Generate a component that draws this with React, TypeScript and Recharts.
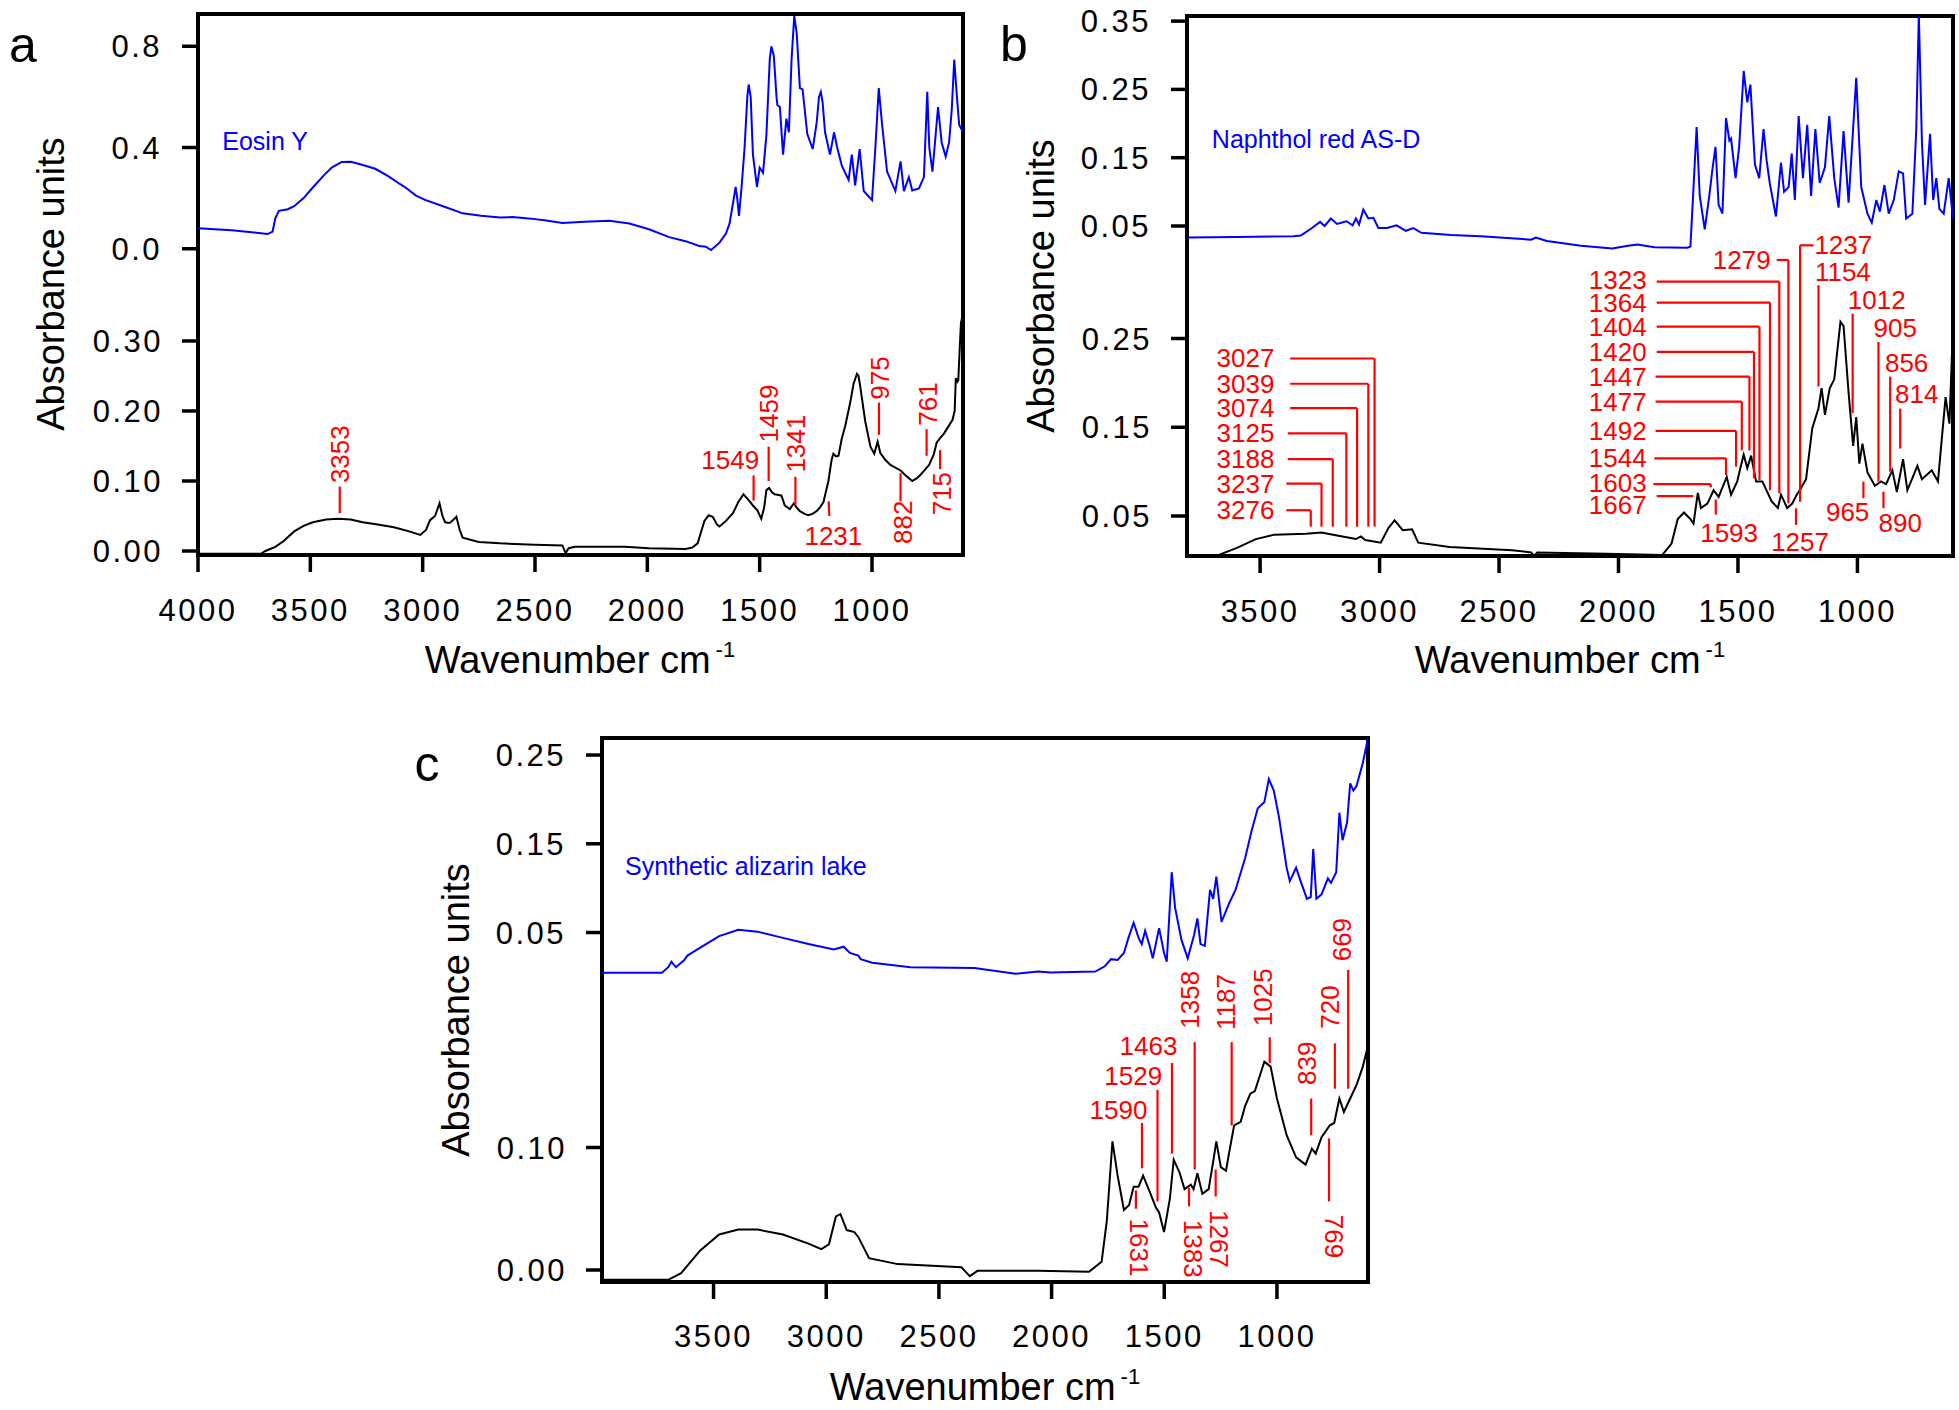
import React from 'react';
import {
  ComposedChart, Line, XAxis, YAxis, ReferenceLine, ReferenceDot, ReferenceArea,
} from 'recharts';

const FONT = '"Liberation Sans", Arial, Helvetica, sans-serif';
const BLUE = '#0000ff';
const BLACK = '#000000';
const RED = '#ff0000';

type Pair = [number, number];
type Peak = { t: string; x: number; y: number; r: number; a: 'start' | 'middle' | 'end'; path: Pair[] };

/* ── spectra: [wavenumber, absorbance] ── */
const eosinBlue: Pair[] = [
  [4000, 0.081], [3850, 0.073], [3750, 0.064], [3690, 0.058], [3668, 0.068], [3656, 0.12], [3640, 0.15],
  [3600, 0.156], [3572, 0.168], [3530, 0.2], [3489, 0.242], [3440, 0.29], [3405, 0.321], [3360, 0.343],
  [3320, 0.344], [3270, 0.332], [3211, 0.316], [3150, 0.285], [3100, 0.255], [3072, 0.239], [3030, 0.21],
  [2989, 0.193], [2900, 0.165], [2822, 0.14], [2740, 0.13], [2656, 0.123], [2600, 0.125], [2517, 0.119],
  [2450, 0.112], [2378, 0.102], [2280, 0.107], [2169, 0.111], [2080, 0.1], [1993, 0.077], [1903, 0.046],
  [1830, 0.03], [1769, 0.011], [1740, 0.008], [1716, -0.005], [1679, 0.024], [1650, 0.06], [1634, 0.1],
  [1615, 0.2], [1607, 0.244], [1600, 0.2], [1592, 0.13], [1580, 0.25], [1567, 0.402], [1555, 0.6],
  [1549, 0.649], [1540, 0.6], [1530, 0.372], [1512, 0.244], [1500, 0.32], [1485, 0.3], [1470, 0.45],
  [1455, 0.75], [1448, 0.8], [1437, 0.762], [1425, 0.6], [1421, 0.567], [1410, 0.56], [1396, 0.372],
  [1381, 0.514], [1370, 0.46], [1358, 0.75], [1346, 0.92], [1335, 0.85], [1321, 0.635], [1309, 0.63],
  [1288, 0.453], [1264, 0.394], [1246, 0.5], [1236, 0.6], [1228, 0.62], [1220, 0.58], [1209, 0.46],
  [1187, 0.372], [1169, 0.46], [1155, 0.4], [1134, 0.327], [1104, 0.272], [1090, 0.372], [1075, 0.25],
  [1055, 0.394], [1037, 0.228], [1000, 0.192], [985, 0.4], [970, 0.635], [955, 0.49], [933, 0.305],
  [896, 0.228], [873, 0.345], [858, 0.228], [836, 0.283], [821, 0.23], [791, 0.238], [769, 0.283],
  [754, 0.62], [745, 0.4], [731, 0.305], [706, 0.56], [690, 0.42], [672, 0.364], [657, 0.42], [645, 0.55],
  [634, 0.747], [622, 0.6], [612, 0.49], [595, 0.46],
];

const eosinBlack: Pair[] = [
  [4000, -0.004], [3720, -0.004], [3700, 0.0], [3656, 0.006], [3620, 0.014], [3572, 0.028], [3530, 0.036],
  [3489, 0.041], [3430, 0.045], [3378, 0.046], [3320, 0.045], [3267, 0.041], [3200, 0.038], [3128, 0.034],
  [3060, 0.028], [3011, 0.023], [2985, 0.03], [2967, 0.044], [2945, 0.05], [2925, 0.068], [2912, 0.05],
  [2900, 0.041], [2880, 0.04], [2862, 0.045], [2850, 0.049], [2835, 0.03], [2822, 0.019], [2750, 0.013],
  [2656, 0.011], [2500, 0.009], [2378, 0.008], [2364, -0.003], [2350, 0.004], [2322, 0.006], [2100, 0.006],
  [1993, 0.004], [1830, 0.003], [1800, 0.005], [1776, 0.011], [1746, 0.043], [1727, 0.051], [1709, 0.049],
  [1690, 0.038], [1679, 0.035], [1650, 0.043], [1619, 0.054], [1595, 0.07], [1572, 0.081], [1550, 0.073],
  [1530, 0.065], [1510, 0.058], [1493, 0.046], [1480, 0.062], [1470, 0.087], [1458, 0.09], [1445, 0.084],
  [1433, 0.081], [1415, 0.08], [1403, 0.079], [1388, 0.065], [1366, 0.06], [1348, 0.068], [1335, 0.062],
  [1321, 0.057], [1300, 0.053], [1284, 0.051], [1265, 0.053], [1246, 0.057], [1230, 0.063], [1216, 0.07],
  [1205, 0.085], [1194, 0.1], [1180, 0.13], [1172, 0.139], [1160, 0.135], [1149, 0.136], [1135, 0.16],
  [1119, 0.179], [1097, 0.212], [1082, 0.239], [1067, 0.253], [1060, 0.25], [1052, 0.234], [1030, 0.185],
  [1007, 0.149], [990, 0.139], [975, 0.156], [963, 0.14], [940, 0.13], [918, 0.123], [873, 0.115],
  [850, 0.108], [821, 0.1], [800, 0.104], [784, 0.109], [765, 0.116], [746, 0.123], [725, 0.138],
  [712, 0.155], [695, 0.162], [679, 0.168], [660, 0.178], [642, 0.187], [632, 0.2], [627, 0.247],
  [620, 0.242], [616, 0.244], [608, 0.3], [604, 0.326], [595, 0.34],
];

const naphtholBlue: Pair[] = [
  [3806, 0.033], [3600, 0.034], [3361, 0.035], [3330, 0.036], [3283, 0.047], [3249, 0.056], [3230, 0.05],
  [3204, 0.061], [3178, 0.053], [3139, 0.057], [3113, 0.051], [3099, 0.061], [3086, 0.052], [3068, 0.074],
  [3047, 0.061], [3026, 0.062], [3005, 0.047], [2969, 0.047], [2929, 0.051], [2890, 0.043], [2859, 0.047],
  [2825, 0.04], [2700, 0.037], [2576, 0.035], [2450, 0.032], [2366, 0.03], [2346, 0.033], [2300, 0.028],
  [2157, 0.021], [2026, 0.017], [1960, 0.021], [1921, 0.023], [1850, 0.019], [1712, 0.018], [1699, 0.02],
  [1686, 0.107], [1673, 0.195], [1660, 0.094], [1639, 0.045], [1620, 0.094], [1607, 0.133], [1594, 0.166],
  [1581, 0.081], [1565, 0.068], [1550, 0.208], [1536, 0.175], [1529, 0.178], [1510, 0.12], [1495, 0.166],
  [1476, 0.277], [1461, 0.231], [1448, 0.257], [1429, 0.14], [1411, 0.12], [1393, 0.192], [1380, 0.146],
  [1367, 0.113], [1341, 0.064], [1320, 0.143], [1307, 0.1], [1288, 0.107], [1275, 0.156], [1262, 0.088],
  [1246, 0.211], [1228, 0.12], [1210, 0.198], [1194, 0.094], [1176, 0.192], [1158, 0.113], [1136, 0.136],
  [1118, 0.211], [1097, 0.12], [1079, 0.077], [1058, 0.189], [1037, 0.084], [1005, 0.267], [984, 0.107],
  [958, 0.068], [940, 0.055], [921, 0.088], [906, 0.071], [887, 0.11], [869, 0.068], [848, 0.088],
  [827, 0.13], [809, 0.127], [796, 0.061], [770, 0.068], [754, 0.189], [743, 0.36], [730, 0.172],
  [717, 0.081], [696, 0.185], [683, 0.088], [670, 0.12], [657, 0.075], [639, 0.068], [618, 0.12], [600, 0.061],
];

const naphtholBlack: Pair[] = [
  [3806, 0.004], [3690, 0.004], [3675, 0.006], [3597, 0.014], [3518, 0.024], [3440, 0.029], [3309, 0.03],
  [3243, 0.0315], [3178, 0.028], [3099, 0.024], [3078, 0.027], [3060, 0.023], [2995, 0.02], [2963, 0.0365],
  [2937, 0.045], [2903, 0.034], [2864, 0.035], [2838, 0.02], [2707, 0.015], [2445, 0.0115], [2366, 0.009],
  [2353, 0.005], [2340, 0.009], [2052, 0.0075], [1817, 0.006], [1778, 0.019], [1752, 0.0465], [1726, 0.054],
  [1699, 0.0465], [1686, 0.0415], [1668, 0.076], [1655, 0.059], [1628, 0.064], [1602, 0.079], [1581, 0.0715],
  [1547, 0.094], [1529, 0.074], [1503, 0.089], [1490, 0.104], [1476, 0.119], [1461, 0.104], [1445, 0.118],
  [1424, 0.089], [1398, 0.089], [1359, 0.0665], [1333, 0.059], [1320, 0.074], [1294, 0.059], [1273, 0.064],
  [1254, 0.074], [1236, 0.0815], [1215, 0.0915], [1189, 0.149], [1163, 0.1715], [1150, 0.194], [1136, 0.164],
  [1116, 0.194], [1097, 0.204], [1071, 0.269], [1058, 0.264], [1037, 0.189], [1018, 0.129], [1005, 0.1615],
  [992, 0.109], [979, 0.1315], [958, 0.099], [927, 0.084], [901, 0.089], [880, 0.086], [854, 0.1015],
  [835, 0.077], [809, 0.114], [791, 0.079], [749, 0.1065], [730, 0.0915], [689, 0.1015], [663, 0.089],
  [631, 0.184], [615, 0.154], [600, 0.264],
];

const alizarinBlue: Pair[] = [
  [3995, 0.0046], [3729, 0.0046], [3701, 0.011], [3687, 0.017], [3667, 0.011], [3630, 0.019], [3616, 0.024],
  [3559, 0.033], [3475, 0.046], [3390, 0.053], [3305, 0.051], [3192, 0.044], [3079, 0.037], [2966, 0.031],
  [2923, 0.034], [2895, 0.027], [2858, 0.024], [2847, 0.02], [2796, 0.016], [2626, 0.011], [2343, 0.01],
  [2160, 0.0036], [2060, 0.006], [2004, 0.005], [1806, 0.006], [1764, 0.012], [1736, 0.02], [1707, 0.019],
  [1679, 0.027], [1659, 0.044], [1636, 0.061], [1614, 0.044], [1600, 0.037], [1585, 0.052], [1565, 0.035],
  [1551, 0.021], [1523, 0.055], [1501, 0.027], [1489, 0.017], [1467, 0.118], [1452, 0.078], [1424, 0.042],
  [1396, 0.021], [1368, 0.047], [1353, 0.066], [1339, 0.037], [1320, 0.035], [1297, 0.098], [1283, 0.088],
  [1269, 0.113], [1246, 0.062], [1212, 0.083], [1184, 0.098], [1141, 0.134], [1113, 0.164], [1085, 0.19],
  [1056, 0.197], [1036, 0.223], [1014, 0.21], [991, 0.18], [957, 0.123], [943, 0.108], [915, 0.123],
  [895, 0.108], [867, 0.088], [850, 0.09], [839, 0.144], [825, 0.088], [802, 0.093], [774, 0.111],
  [760, 0.106], [737, 0.118], [723, 0.185], [709, 0.154], [689, 0.174], [675, 0.218], [661, 0.21],
  [647, 0.215], [619, 0.241], [596, 0.269],
];

const alizarinBlack: Pair[] = [
  [3995, -0.008], [3701, -0.008], [3644, -0.0026], [3559, 0.016], [3475, 0.029], [3390, 0.033], [3305, 0.033],
  [3192, 0.029], [3079, 0.0215], [3022, 0.017], [2988, 0.021], [2957, 0.0437], [2937, 0.0456], [2909, 0.0326],
  [2875, 0.031], [2858, 0.027], [2810, 0.0096], [2683, 0.0048], [2400, 0.0022], [2363, -0.005], [2329, -0.0007],
  [2060, -0.0007], [1834, -0.0015], [1778, 0.0067], [1755, 0.04], [1730, 0.105], [1707, 0.077], [1679, 0.049],
  [1656, 0.053], [1636, 0.068], [1614, 0.068], [1594, 0.077], [1565, 0.064], [1537, 0.051], [1523, 0.047],
  [1501, 0.031], [1475, 0.0585], [1458, 0.09], [1433, 0.08], [1410, 0.066], [1382, 0.0696], [1370, 0.066],
  [1353, 0.079], [1331, 0.0622], [1303, 0.066], [1280, 0.092], [1269, 0.105], [1249, 0.084], [1226, 0.081],
  [1212, 0.096], [1190, 0.118], [1161, 0.121], [1141, 0.134], [1118, 0.144], [1098, 0.146], [1070, 0.162],
  [1056, 0.17], [1028, 0.166], [1000, 0.14], [957, 0.11], [915, 0.092], [873, 0.086], [845, 0.099],
  [828, 0.095], [802, 0.1085], [766, 0.118], [746, 0.12], [723, 0.14], [703, 0.129], [675, 0.14],
  [647, 0.151], [619, 0.166], [596, 0.183],
];

/* ── peak labels (on the lower, black spectrum) ── */
const eosinPeaks: Peak[] = [
  { t: '3353', x: 3369, y: 0.097, r: -90, a: 'start', path: [[3369, 0.054], [3369, 0.092]] },
  { t: '1549', x: 1631, y: 0.13, r: 0, a: 'middle', path: [[1527, 0.108], [1527, 0.072]] },
  { t: '1459', x: 1460, y: 0.155, r: -90, a: 'start', path: [[1460, 0.1], [1460, 0.149]] },
  { t: '1341', x: 1339, y: 0.112, r: -90, a: 'start', path: [[1341, 0.066], [1341, 0.106]] },
  { t: '1231', x: 1172, y: 0.021, r: 0, a: 'middle', path: [[1190, 0.05], [1193, 0.071]] },
  { t: '975', x: 963, y: 0.216, r: -90, a: 'start', path: [[969, 0.166], [969, 0.212]] },
  { t: '882', x: 863, y: 0.01, r: -90, a: 'start', path: [[873, 0.071], [873, 0.111]] },
  { t: '761', x: 752, y: 0.179, r: -90, a: 'start', path: [[757, 0.136], [757, 0.174]] },
  { t: '715', x: 687, y: 0.051, r: -90, a: 'start', path: [[697, 0.117], [697, 0.144]] },
];

const naphtholPeaks: Peak[] = [
  { t: '3027', x: 3440, y: 0.2275, r: 0, a: 'end', path: [[3374, 0.2275], [3021, 0.2275], [3021, 0.038]] },
  { t: '3039', x: 3440, y: 0.199, r: 0, a: 'end', path: [[3374, 0.199], [3047, 0.199], [3047, 0.038]] },
  { t: '3074', x: 3440, y: 0.1715, r: 0, a: 'end', path: [[3374, 0.1715], [3094, 0.1715], [3094, 0.038]] },
  { t: '3125', x: 3440, y: 0.143, r: 0, a: 'end', path: [[3384, 0.143], [3139, 0.143], [3139, 0.038]] },
  { t: '3188', x: 3440, y: 0.114, r: 0, a: 'end', path: [[3384, 0.114], [3196, 0.114], [3196, 0.038]] },
  { t: '3237', x: 3440, y: 0.0865, r: 0, a: 'end', path: [[3390, 0.0865], [3243, 0.0865], [3243, 0.038]] },
  { t: '3276', x: 3440, y: 0.0565, r: 0, a: 'end', path: [[3390, 0.0565], [3288, 0.0565], [3288, 0.038]] },
  { t: '1323', x: 1882, y: 0.316, r: 0, a: 'end', path: [[1840, 0.314], [1327, 0.314], [1327, 0.0755]] },
  { t: '1364', x: 1882, y: 0.29, r: 0, a: 'end', path: [[1840, 0.2905], [1366, 0.2905], [1366, 0.079]] },
  { t: '1404', x: 1882, y: 0.2633, r: 0, a: 'end', path: [[1840, 0.2633], [1410, 0.2633], [1410, 0.0906]] },
  { t: '1420', x: 1882, y: 0.235, r: 0, a: 'end', path: [[1840, 0.235], [1433, 0.235], [1433, 0.0925]] },
  { t: '1447', x: 1882, y: 0.207, r: 0, a: 'end', path: [[1845, 0.207], [1452, 0.207], [1452, 0.124]] },
  { t: '1477', x: 1882, y: 0.1788, r: 0, a: 'end', path: [[1845, 0.1788], [1484, 0.1788], [1484, 0.124]] },
  { t: '1492', x: 1882, y: 0.146, r: 0, a: 'end', path: [[1845, 0.146], [1508, 0.146], [1508, 0.1056]] },
  { t: '1544', x: 1882, y: 0.115, r: 0, a: 'end', path: [[1850, 0.115], [1550, 0.115], [1550, 0.0962]] },
  { t: '1603', x: 1882, y: 0.0875, r: 0, a: 'end', path: [[1854, 0.086], [1614, 0.086], [1614, 0.0823]] },
  { t: '1667', x: 1882, y: 0.0624, r: 0, a: 'end', path: [[1840, 0.0725], [1687, 0.0725]] },
  { t: '1593', x: 1537, y: 0.0305, r: 0, a: 'middle', path: [[1593, 0.0685], [1593, 0.0516]] },
  { t: '1279', x: 1484, y: 0.3385, r: 0, a: 'middle', path: [[1338, 0.3385], [1289, 0.3385], [1289, 0.0643]] },
  { t: '1237', x: 1059, y: 0.355, r: 0, a: 'middle', path: [[1184, 0.355], [1240, 0.355], [1240, 0.066]] },
  { t: '1154', x: 1061, y: 0.325, r: 0, a: 'middle', path: [[1163, 0.31], [1163, 0.196]] },
  { t: '1257', x: 1240, y: 0.021, r: 0, a: 'middle', path: [[1257, 0.0587], [1257, 0.04]] },
  { t: '1012', x: 919, y: 0.293, r: 0, a: 'middle', path: [[1020, 0.278], [1020, 0.166]] },
  { t: '905', x: 842, y: 0.2615, r: 0, a: 'middle', path: [[912, 0.246], [912, 0.0887]] },
  { t: '856', x: 794, y: 0.222, r: 0, a: 'middle', path: [[863, 0.207], [863, 0.1]] },
  { t: '814', x: 752, y: 0.188, r: 0, a: 'middle', path: [[821, 0.171], [821, 0.126]] },
  { t: '965', x: 1041, y: 0.0549, r: 0, a: 'middle', path: [[975, 0.0887], [975, 0.07]] },
  { t: '890', x: 821, y: 0.0418, r: 0, a: 'middle', path: [[891, 0.0774], [891, 0.0587]] },
];

const alizarinPeaks: Peak[] = [
  { t: '1590', x: 1703, y: 0.131, r: 0, a: 'middle', path: [[1599, 0.12], [1599, 0.083]] },
  { t: '1529', x: 1638, y: 0.158, r: 0, a: 'middle', path: [[1530, 0.147], [1530, 0.056]] },
  { t: '1463', x: 1570, y: 0.183, r: 0, a: 'middle', path: [[1466, 0.169], [1466, 0.095]] },
  { t: '1631', x: 1614, y: 0.042, r: 90, a: 'start', path: [[1626, 0.065], [1626, 0.05]] },
  { t: '1358', x: 1387, y: 0.197, r: -90, a: 'start', path: [[1365, 0.186], [1365, 0.082]] },
  { t: '1383', x: 1372, y: 0.041, r: 90, a: 'start', path: [[1390, 0.067], [1390, 0.052]] },
  { t: '1187', x: 1227, y: 0.196, r: -90, a: 'start', path: [[1201, 0.186], [1201, 0.118]] },
  { t: '1267', x: 1257, y: 0.049, r: 90, a: 'start', path: [[1272, 0.082], [1272, 0.06]] },
  { t: '1025', x: 1062, y: 0.199, r: -90, a: 'start', path: [[1032, 0.19], [1032, 0.169]] },
  { t: '839', x: 866, y: 0.151, r: -90, a: 'start', path: [[848, 0.14], [848, 0.11]] },
  { t: '769', x: 747, y: 0.045, r: 90, a: 'start', path: [[769, 0.1075], [769, 0.056]] },
  { t: '720', x: 766, y: 0.197, r: -90, a: 'start', path: [[743, 0.185], [743, 0.148]] },
  { t: '669', x: 711, y: 0.252, r: -90, a: 'start', path: [[684, 0.245], [684, 0.148]] },
];

/* ── axis ticks ── */
const ticksA = [4000, 3500, 3000, 2500, 2000, 1500, 1000];
const ticksBC = [3500, 3000, 2500, 2000, 1500, 1000];
const blueTicksA = [0, 0.4, 0.8];
const blackTicksA = [0, 0.1, 0.2, 0.3];
const blueTicksB = [0.05, 0.15, 0.25, 0.35];
const blackTicksB = [0.05, 0.15, 0.25];
const blueTicksC = [0.05, 0.15, 0.25];
const blackTicksC = [0, 0.1];

const toPts = (arr: Pair[]) => arr.map(([wn, v]) => ({ wn, v }));

type PanelProps = {
  left: number; top: number; width: number; height: number;
  margin: { top: number; right: number; bottom: number; left: number };
  xHeight: number; tickGap: number; xDomain: Pair; xTicks: number[];
  blueDomain: Pair; blueTicks: number[]; blueDigits: number;
  blackDomain: Pair; blackTicks: number[]; blackDigits: number;
  blue: Pair[]; black: Pair[]; peaks: Peak[]; name: string; namePos: Pair;
};

const tickLineStyle = { stroke: BLACK, strokeWidth: 3.5 };

// tick labels: wide Arial-like digits as in the figure
const XTick = (props: any) => (
  <text x={props.x} y={props.y} dy="0.71em" textAnchor="middle" fontSize={31} letterSpacing={2.5}
    fontFamily={FONT} fill={BLACK}>{props.payload.value}</text>
);
const yTick = (digits: number) => (props: any) => (
  <text x={props.x + 2} y={props.y} dy="0.355em" textAnchor="end" fontSize={31} letterSpacing={2.5}
    fontFamily={FONT} fill={BLACK}>{Number(props.payload.value).toFixed(digits)}</text>
);

function Panel(p: PanelProps) {
  return (
    <div style={{ position: 'absolute', left: p.left, top: p.top }}>
      <ComposedChart width={p.width} height={p.height} margin={p.margin}>
        <XAxis dataKey="wn" type="number" domain={p.xDomain} reversed allowDataOverflow ticks={p.xTicks}
          interval={0} height={p.xHeight} axisLine={false} tickSize={17} tickMargin={p.tickGap}
          tickLine={tickLineStyle} tick={XTick} />
        <YAxis yAxisId="black" type="number" domain={p.blackDomain} allowDataOverflow ticks={p.blackTicks}
          interval={0} width={1} axisLine={false} tickSize={16} tickMargin={21} tickLine={tickLineStyle}
          tick={yTick(p.blackDigits)} />
        <YAxis yAxisId="blue" type="number" domain={p.blueDomain} allowDataOverflow ticks={p.blueTicks}
          interval={0} width={1} axisLine={false} tickSize={15} tickMargin={22} tickLine={tickLineStyle}
          tick={yTick(p.blueDigits)} />
        <Line yAxisId="blue" data={toPts(p.blue)} dataKey="v" type="linear" stroke={BLUE} strokeWidth={2}
          dot={false} isAnimationActive={false} />
        <Line yAxisId="black" data={toPts(p.black)} dataKey="v" type="linear" stroke={BLACK} strokeWidth={2}
          dot={false} isAnimationActive={false} />
        {p.peaks.flatMap((pk, i) => pk.path.slice(1).map((pt, j) => (
          <ReferenceLine key={`l${i}-${j}`} yAxisId="black" stroke={RED} strokeWidth={2.2}
            segment={[{ x: pk.path[j][0], y: pk.path[j][1] }, { x: pt[0], y: pt[1] }]} />
        )))}
        {p.peaks.map((pk, i) => (
          <ReferenceDot key={`t${i}`} yAxisId="black" x={pk.x} y={pk.y} r={0}
            shape={(s: any) => (
              <text x={s.cx} y={s.cy} transform={pk.r ? `rotate(${pk.r} ${s.cx} ${s.cy})` : undefined}
                textAnchor={pk.a} dominantBaseline="central" fill={RED} fontSize={26} fontFamily={FONT}>
                {pk.t}
              </text>
            )} />
        ))}
        <ReferenceDot yAxisId="blue" x={p.namePos[0]} y={p.namePos[1]} r={0}
          shape={(s: any) => (
            <text x={s.cx} y={s.cy} textAnchor="start" dominantBaseline="central" fill={BLUE}
              fontSize={25} fontFamily={FONT}>{p.name}</text>
          )} />
        <ReferenceArea yAxisId="black" x1={p.xDomain[0]} x2={p.xDomain[1]} y1={p.blackDomain[0]}
          y2={p.blackDomain[1]} fill="none" stroke={BLACK} strokeWidth={4} ifOverflow="visible" />
      </ComposedChart>
    </div>
  );
}

function XTitle({ x, y }: { x: number; y: number }) {
  return (
    <text x={x} y={y} textAnchor="middle" fontSize={38} fontFamily={FONT} fill={BLACK}>
      Wavenumber cm<tspan dx={5} dy={-16} fontSize={22}>-1</tspan>
    </text>
  );
}

function YTitle({ x, y }: { x: number; y: number }) {
  return (
    <text x={x} y={y} transform={`rotate(-90 ${x} ${y})`} textAnchor="middle" dominantBaseline="central"
      fontSize={38} fontFamily={FONT} fill={BLACK}>Absorbance units</text>
  );
}

export default function App() {
  return (
    <div style={{ position: 'absolute', left: 0, top: 0, width: 1959, height: 1410, background: '#fff' }}>
      <Panel left={0} top={0} width={980} height={700}
        margin={{ top: 14, right: 17, bottom: 0, left: 196 }} xHeight={145} tickGap={27}
        xDomain={[595, 4000]} xTicks={ticksA}
        blueDomain={[-1.21, 0.9275]} blueTicks={blueTicksA} blueDigits={1}
        blackDomain={[-0.0057, 0.767]} blackTicks={blackTicksA} blackDigits={2}
        blue={eosinBlue} black={eosinBlack} peaks={eosinPeaks} name="Eosin Y" namePos={[3892, 0.426]} />
      <Panel left={980} top={0} width={979} height={700}
        margin={{ top: 16, right: 6, bottom: 0, left: 205 }} xHeight={144} tickGap={27}
        xDomain={[600, 3806]} xTicks={ticksBC}
        blueDomain={[-0.4332, 0.3575]} blueTicks={blueTicksB} blueDigits={2}
        blackDomain={[0.00493, 0.6134]} blackTicks={blackTicksB} blackDigits={2}
        blue={naphtholBlue} black={naphtholBlack} peaks={naphtholPeaks} name="Naphthol red AS-D"
        namePos={[3702, 0.1775]} />
      <Panel left={400} top={700} width={1000} height={710}
        margin={{ top: 38, right: 32, bottom: 0, left: 200 }} xHeight={128} tickGap={26}
        xDomain={[596, 3995]} xTicks={ticksBC}
        blueDomain={[-0.3438, 0.2692]} blueTicks={blueTicksC} blueDigits={2}
        blackDomain={[-0.0098, 0.4343]} blackTicks={blackTicksC} blackDigits={2}
        blue={alizarinBlue} black={alizarinBlack} peaks={alizarinPeaks} name="Synthetic alizarin lake"
        namePos={[3893, 0.1245]} />
      <svg width={1959} height={1410} style={{ position: 'absolute', left: 0, top: 0, pointerEvents: 'none' }}>
        <text x={23} y={62} textAnchor="middle" fontSize={50} fontFamily={FONT}>a</text>
        <text x={1014} y={61} textAnchor="middle" fontSize={50} fontFamily={FONT}>b</text>
        <text x={427} y={781} textAnchor="middle" fontSize={50} fontFamily={FONT}>c</text>
        <YTitle x={51} y={284} />
        <YTitle x={1041} y={286} />
        <YTitle x={456} y={1010} />
        <XTitle x={580} y={673} />
        <XTitle x={1570} y={673} />
        <XTitle x={985} y={1400} />
      </svg>
    </div>
  );
}
